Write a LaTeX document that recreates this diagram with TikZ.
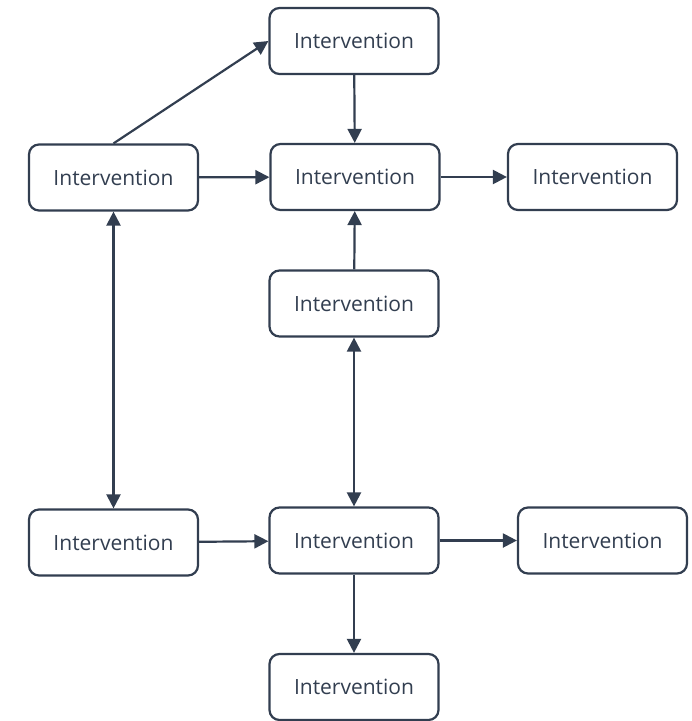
\documentclass[tikz,border=0pt]{standalone}
\usepackage{fontspec}
\setmainfont{Open Sans}
\usetikzlibrary{arrows.meta}
\definecolor{slate}{RGB}{50,62,80}

\begin{document}
\begin{tikzpicture}[x=1pt,y=-1pt,
  box/.style={draw=slate,line width=2.2pt,rounded corners=10pt,fill=white,
    minimum width=169pt,minimum height=66pt,text=slate,font=\fontsize{21}{25}\selectfont},
  link/.style={draw=slate,line width=2.2pt,-{Triangle[length=14pt,width=14pt]}},
  both/.style={draw=slate,line width=2.2pt,{Triangle[length=14pt,width=14pt]}-{Triangle[length=14pt,width=14pt]}}]
\useasboundingbox (0,0) rectangle (692,721);


\node[box] (v1) at (354,41) {Intervention};
\node[box] (v2) at (113.5,177.5) {Intervention};
\node[box] (v3) at (355,177) {Intervention};
\node[box] (v4) at (592.5,177) {Intervention};
\node[box] (v5) at (354,303.5) {Intervention};
\draw[link] (v2.north) -- (v1.west);
\draw[link] (v1) -- (v3);
\draw[link] (v2) -- (v3);
\draw[link] (v3) -- (v4);
\draw[link] (v5) -- (v3);



\node[box] (v6) at (113.5,542.5) {Intervention};
\node[box] (v7) at (354,540.5) {Intervention};
\node[box] (v8) at (602.5,540.5) {Intervention};
\node[box] (v9) at (354,687) {Intervention};
\draw[link] (v6) -- (v7);
\draw[link] (v7) -- (v8);
\draw[link] (v7) -- (v9);
\draw[both] (v2) -- (v6);
\draw[both] (v5) -- (v7);
\end{tikzpicture}
\end{document}
